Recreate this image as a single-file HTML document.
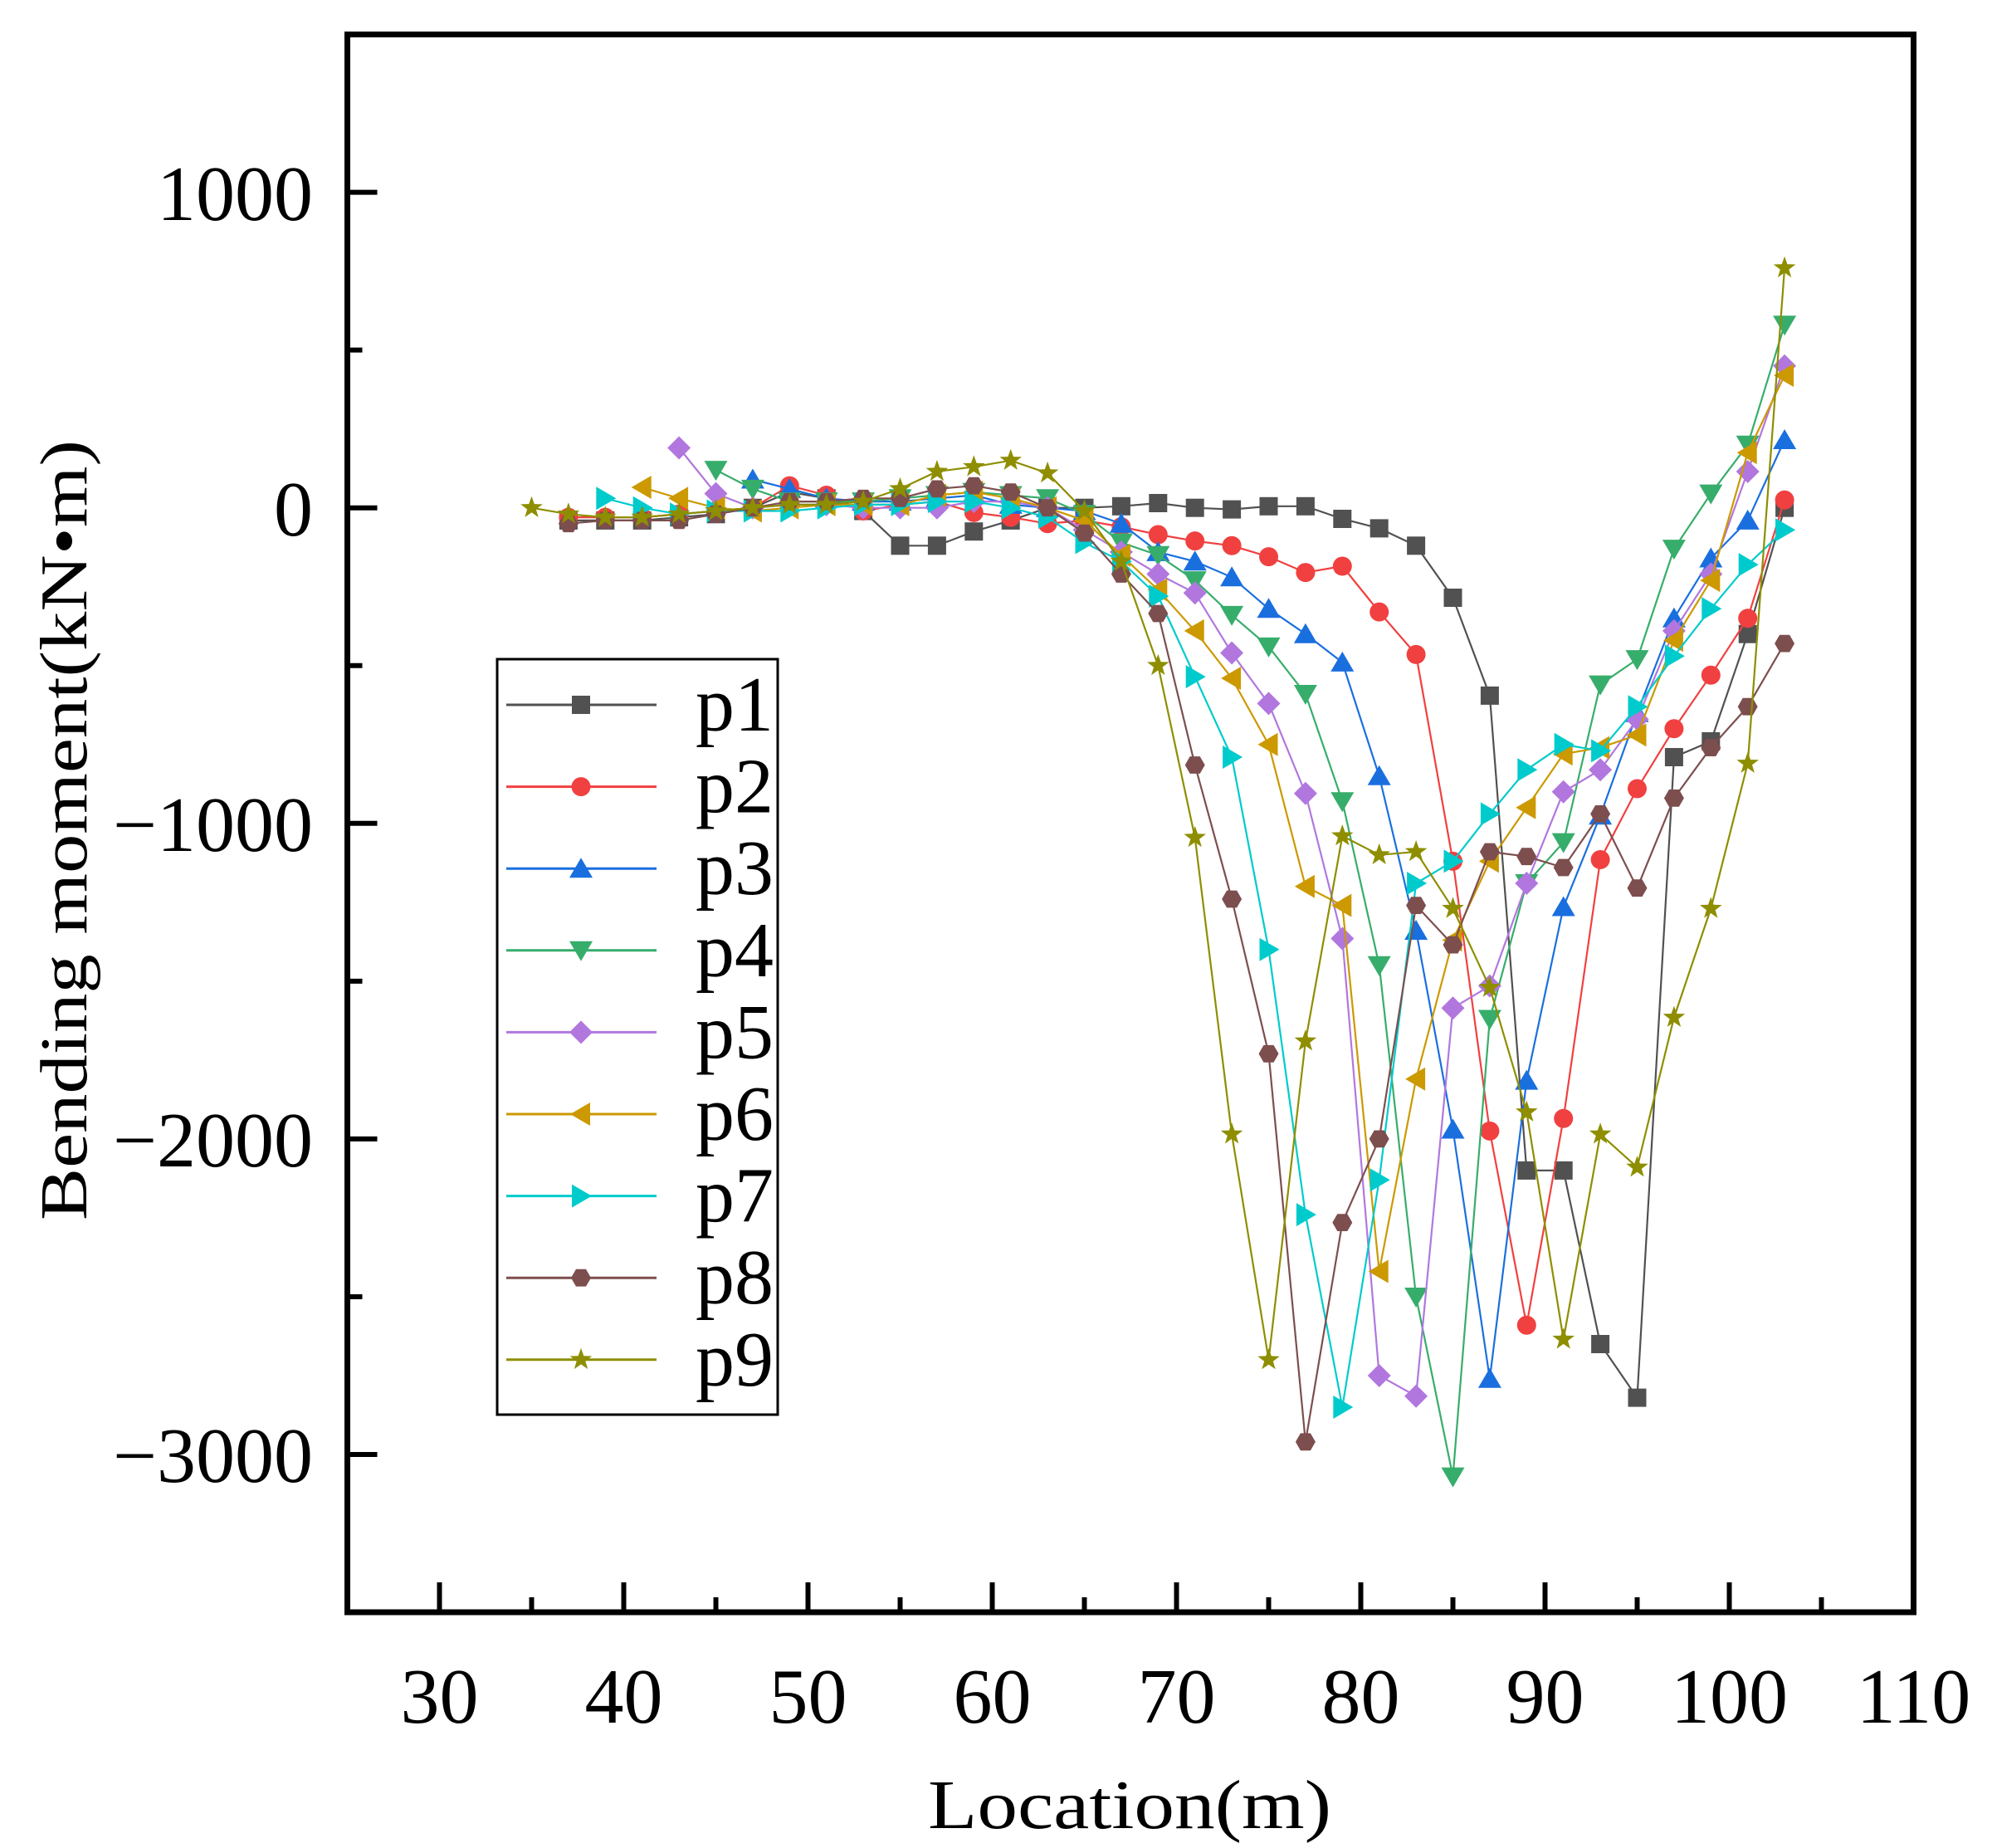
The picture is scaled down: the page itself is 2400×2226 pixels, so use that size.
<!DOCTYPE html>
<html><head><meta charset="utf-8"><style>
html,body{margin:0;padding:0;background:#fff}
svg{display:block}
</style></head><body>
<svg id="s" width="2400" height="2226" viewBox="0 0 2400 2226" xmlns="http://www.w3.org/2000/svg">
<defs>
<rect id="m0" x="-11" y="-11" width="22" height="22"/>
<circle id="m1" r="11.5"/>
<polygon id="m2" points="0,-13 14,11 -14,11"/>
<polygon id="m3" points="0,13 14,-11 -14,-11"/>
<polygon id="m4" points="0,-14 14,0 0,14 -14,0"/>
<polygon id="m5" points="-13,0 11,-14 11,14"/>
<polygon id="m6" points="13,0 -11,-14 -11,14"/>
<polygon id="m7" points="12,0 6,10.4 -6,10.4 -12,0 -6,-10.4 6,-10.4"/>
<polygon id="m8" points="0,-14 3.3,-4.6 13.3,-4.3 5.3,1.8 8.2,11.3 0,5.6 -8.2,11.3 -5.3,1.8 -13.3,-4.3 -3.3,-4.6"/>
</defs>
<g id="plot"></g>
<g stroke="#000" stroke-width="7" fill="none">
<rect x="418.5" y="41.5" width="1887" height="1900.5"/>
</g>
<g id="ticks" stroke="#000" stroke-width="6"></g>
<g font-family="'Liberation Serif',serif" font-size="94" fill="#000" text-anchor="end">
<text x="377" y="265">1000</text>
<text x="377" y="645">0</text>
<text x="377" y="1025">−1000</text>
<text x="377" y="1405">−2000</text>
<text x="377" y="1785">−3000</text>
</g>
<g font-family="'Liberation Serif',serif" font-size="94" fill="#000" text-anchor="middle">
<text x="529.5" y="2075">30</text>
<text x="751.5" y="2075">40</text>
<text x="973.5" y="2075">50</text>
<text x="1195.5" y="2075">60</text>
<text x="1417.5" y="2075">70</text>
<text x="1639.5" y="2075">80</text>
<text x="1861.5" y="2075">90</text>
<text x="2083.5" y="2075">100</text>
<text x="2305.5" y="2075">110</text>
</g>
<text x="1118" y="2202" font-family="'Liberation Serif',serif" font-size="84" textLength="486" lengthAdjust="spacingAndGlyphs">Location(m)</text>
<text transform="translate(104,1470) rotate(-90)" font-family="'Liberation Serif',serif" font-size="80" textLength="940" lengthAdjust="spacingAndGlyphs">Bending moment(kN•m)</text>
<rect x="599" y="794" width="338" height="910" fill="#fff" stroke="#000" stroke-width="3"/>
<g id="leg"></g>
</svg>
<script>
var X=function(v){return 418.5+(v-25)*22.2},Y=function(v){return 611.7-v*0.3801};
var cols=["#515151","#F14040","#1A6FDF","#37AD6B","#B177DE","#CC9900","#00CBCC","#7D4E4E","#8E8E00"];
var D=[
[37,[-40,-40,-40,-30,-20,0,50,30,-10,-120,-120,-75,-40,0,0,5,15,0,-5,5,5,-35,-65,-120,-285,-595,-2100,-2100,-2650,-2820,-790,-740,-400,0]],
[37,[-30,-30,-30,-20,-10,0,70,40,-10,10,20,-15,-30,-50,-40,-60,-85,-105,-120,-155,-205,-185,-330,-465,-1120,-1975,-2590,-1935,-1115,-890,-700,-530,-350,25]],
[47,[90,60,30,20,20,30,40,10,0,-10,-50,-140,-170,-220,-320,-400,-490,-850,-1340,-1970,-2760,-1815,-1265,-975,-650,-350,-160,-40,215]],
[45,[120,60,20,20,20,30,40,50,40,30,-20,-110,-150,-230,-340,-440,-590,-930,-1450,-2500,-3070,-1620,-1190,-1060,-560,-480,-130,45,200,580]],
[43,[190,45,0,10,10,0,0,0,20,20,0,-70,-140,-210,-270,-460,-620,-905,-1365,-2750,-2815,-1585,-1515,-1190,-900,-830,-670,-390,-210,115,450]],
[41,[65,30,0,-10,0,10,10,10,40,50,30,0,-40,-150,-260,-390,-540,-750,-1200,-1260,-2420,-1810,-1370,-1120,-950,-780,-760,-720,-420,-230,175,420]],
[39,[30,0,-20,-10,-10,-10,0,10,10,20,20,0,-30,-110,-170,-280,-535,-790,-1400,-2240,-2850,-2130,-1190,-1120,-970,-830,-750,-770,-630,-470,-320,-180,-70]],
[37,[-50,-40,-40,-40,-20,0,20,20,30,30,60,70,50,0,-80,-210,-335,-815,-1240,-1730,-2960,-2265,-2000,-1260,-1385,-1090,-1105,-1140,-970,-1205,-920,-760,-630,-430]],
[35,[0,-20,-30,-30,-20,-10,0,10,10,20,60,115,130,150,110,-10,-170,-500,-1045,-1985,-2700,-1690,-1040,-1100,-1090,-1270,-1520,-1915,-2635,-1985,-2090,-1615,-1270,-810,760]]
];
var NS="http://www.w3.org/2000/svg",g=document.getElementById("plot"),h="";
D.forEach(function(s,i){var pts=s[1].map(function(v,k){return [X(s[0]+2*k),Y(v)]});
h+='<polyline fill="none" stroke="'+cols[i]+'" stroke-width="2.2" points="'+pts.map(function(p){return p[0].toFixed(1)+","+p[1].toFixed(1)}).join(" ")+'"/>';
pts.forEach(function(p){h+='<use href="#m'+i+'" x="'+p[0].toFixed(1)+'" y="'+p[1].toFixed(1)+'" fill="'+cols[i]+'"/>'});});
g.innerHTML=h;
var t="";
for(var v=30;v<=110;v+=5){var x=X(v);t+='<line x1="'+x+'" x2="'+x+'" y1="1942" y2="'+(1942-(v%10?18:36))+'"/>';}
for(var v=-3500;v<=1500;v+=500){var y=Y(v);t+='<line y1="'+y+'" y2="'+y+'" x1="418.5" x2="'+(418.5+(v%1000?18:36))+'"/>';}
document.getElementById("ticks").innerHTML=t;
var l="";
for(var i=0;i<9;i++){var y=849+i*98.6;l+='<line x1="610" x2="791" y1="'+y+'" y2="'+y+'" stroke="'+cols[i]+'" stroke-width="3"/><use href="#m'+i+'" x="700" y="'+y+'" fill="'+cols[i]+'"/>';}
document.getElementById("leg").innerHTML=l;
</script>
<div style="display:none">
p1 p2 p3 p4 p5 p6 p7 p8 p9
</div>
<svg width="0" height="0" style="position:absolute;left:0;top:0">
</svg>
<style>#legtxt text{font-family:'Liberation Serif',serif}</style>
<svg width="2400" height="2226" style="position:absolute;left:0;top:0;pointer-events:none">
<g font-family="'Liberation Serif',serif" font-size="94" fill="#000">
<text x="838" y="880">p1</text>
<text x="838" y="978.6">p2</text>
<text x="838" y="1077.2">p3</text>
<text x="838" y="1175.8">p4</text>
<text x="838" y="1274.4">p5</text>
<text x="838" y="1373">p6</text>
<text x="838" y="1471.6">p7</text>
<text x="838" y="1570.2">p8</text>
<text x="838" y="1668.8">p9</text>
</g>
</svg>
</body></html>
